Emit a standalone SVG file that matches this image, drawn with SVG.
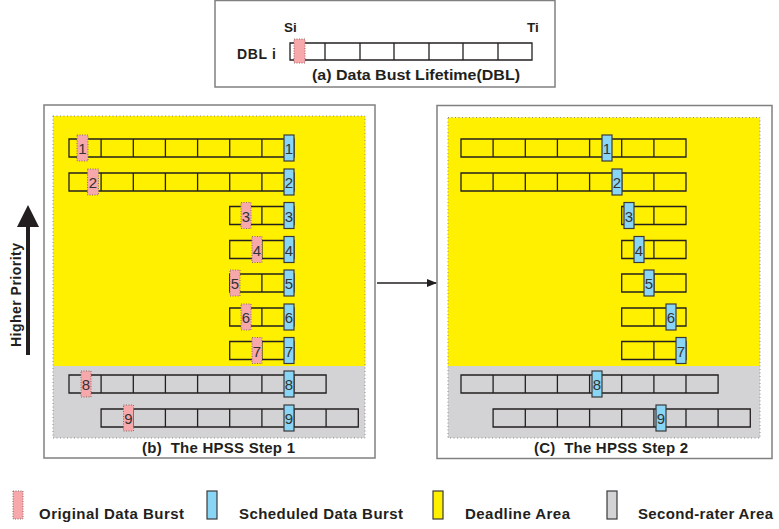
<svg xmlns="http://www.w3.org/2000/svg" width="779" height="529" viewBox="0 0 779 529">
<style>
.frame{fill:#fff;stroke:#808080;stroke-width:1.5}
.cell{fill:none;stroke:#231f20;stroke-width:1.3}
.pink{fill:#f7a8aa;stroke:#8a6a6a;stroke-width:1;stroke-dasharray:1 1.5}
.blue{fill:#89d5f5;stroke:#3a3a3a;stroke-width:1.2}
.yel{fill:#fff000}
.gry{fill:#d3d3d5}
.dots{fill:none;stroke:#8a8a8a;stroke-width:1;stroke-dasharray:1 2.5}
.num{font-family:"Liberation Sans",Arial,sans-serif;font-size:15px;fill:#333;text-anchor:middle}
.lbl{font-family:"Liberation Sans",Arial,sans-serif;font-weight:bold;fill:#231f20}
</style>
<defs>
<marker id="ah" markerWidth="10" markerHeight="8" refX="9" refY="4" orient="auto" markerUnits="userSpaceOnUse">
<path d="M0,0 L10,4 L0,8 Z" fill="#231f20"/>
</marker>
</defs>

<g id="dbl-box">
<rect class="frame" x="215" y="0.5" width="340" height="86.5"/>
<text class="lbl" x="284" y="32" font-size="13.5">Si</text>
<text class="lbl" x="527" y="32" font-size="13.5">Ti</text>
<text class="lbl" x="237" y="59" font-size="14" textLength="39">DBL i</text>
<path class="cell" d="M290,43 h242 v17 h-242 Z M325,43 v17 M360,43 v17 M394,43 v17 M429,43 v17 M463,43 v17 M498,43 v17"/>
<rect class="pink" x="294" y="39" width="11" height="24"/>
<text class="lbl" x="312" y="80" font-size="14" textLength="208" lengthAdjust="spacingAndGlyphs">(a) Data Bust Lifetime(DBL)</text>
</g>

<g id="panel-b">
<rect class="frame" x="44" y="105" width="331" height="353"/>
<rect class="yel" x="53" y="116" width="312" height="250"/>
<rect class="gry" x="53" y="366" width="312" height="72"/>
<rect class="dots" x="53" y="116" width="312" height="322"/>
<text class="lbl" x="142" y="453" font-size="15" textLength="153" xml:space="preserve">(b)  The HPSS Step 1</text>
</g>

<g id="b-row1">
<path class="cell" d="M69,139 h225 v18 h-225 Z M101.1,139 v18 M133.3,139 v18 M165.4,139 v18 M197.6,139 v18 M229.7,139 v18 M261.9,139 v18"/>
<rect class="pink" x="77" y="135" width="11" height="26"/><text class="num" x="82.5" y="154">1</text>
<rect class="blue" x="284" y="135" width="10" height="26"/><text class="num" x="289" y="154">1</text>
</g>
<g id="b-row2">
<path class="cell" d="M69,173 h225 v18 h-225 Z M101.1,173 v18 M133.3,173 v18 M165.4,173 v18 M197.6,173 v18 M229.7,173 v18 M261.9,173 v18"/>
<rect class="pink" x="87.5" y="169" width="11" height="26"/><text class="num" x="93" y="188">2</text>
<rect class="blue" x="284" y="169" width="10" height="26"/><text class="num" x="289" y="188">2</text>
</g>
<g id="b-row3">
<path class="cell" d="M229.7,206.5 h64.3 v18 h-64.3 Z M261.9,206.5 v18"/>
<rect class="pink" x="241" y="202.5" width="10" height="26"/><text class="num" x="246" y="221.5">3</text>
<rect class="blue" x="284" y="202.5" width="10" height="26"/><text class="num" x="289" y="221.5">3</text>
</g>
<g id="b-row4">
<path class="cell" d="M229.7,240.5 h64.3 v18 h-64.3 Z M261.9,240.5 v18"/>
<rect class="pink" x="252" y="236.5" width="10" height="26"/><text class="num" x="257" y="255.5">4</text>
<rect class="blue" x="284" y="236.5" width="10" height="26"/><text class="num" x="289" y="255.5">4</text>
</g>
<g id="b-row5">
<path class="cell" d="M229.7,274 h64.3 v18 h-64.3 Z M261.9,274 v18"/>
<rect class="pink" x="230" y="270" width="10" height="26"/><text class="num" x="235" y="289">5</text>
<rect class="blue" x="284" y="270" width="10" height="26"/><text class="num" x="289" y="289">5</text>
</g>
<g id="b-row6">
<path class="cell" d="M229.7,308 h64.3 v18 h-64.3 Z M261.9,308 v18"/>
<rect class="pink" x="241" y="304" width="10" height="26"/><text class="num" x="246" y="323">6</text>
<rect class="blue" x="284" y="304" width="10" height="26"/><text class="num" x="289" y="323">6</text>
</g>
<g id="b-row7">
<path class="cell" d="M229.7,341.5 h64.3 v18 h-64.3 Z M261.9,341.5 v18"/>
<rect class="pink" x="252" y="337.5" width="10" height="26"/><text class="num" x="257" y="356.5">7</text>
<rect class="blue" x="284" y="337.5" width="10" height="26"/><text class="num" x="289" y="356.5">7</text>
</g>
<g id="b-row8">
<path class="cell" d="M69,375 h257.1 v18 h-257.1 Z M101.1,375 v18 M133.3,375 v18 M165.4,375 v18 M197.6,375 v18 M229.7,375 v18 M261.9,375 v18 M294,375 v18"/>
<rect class="pink" x="81" y="371" width="10" height="26"/><text class="num" x="86" y="390">8</text>
<rect class="blue" x="284" y="371" width="10" height="26"/><text class="num" x="289" y="390">8</text>
</g>
<g id="b-row9">
<path class="cell" d="M101.1,409 h257.2 v18 h-257.2 Z M133.3,409 v18 M165.4,409 v18 M197.6,409 v18 M229.7,409 v18 M261.9,409 v18 M294,409 v18 M326.1,409 v18"/>
<rect class="pink" x="123.5" y="405" width="10" height="26"/><text class="num" x="128.5" y="424">9</text>
<rect class="blue" x="284" y="405" width="10" height="26"/><text class="num" x="289" y="424">9</text>
</g>

<g id="panel-c">
<rect class="frame" x="437" y="105.5" width="335" height="353"/>
<rect class="yel" x="448" y="117.5" width="312" height="248.5"/>
<rect class="gry" x="448" y="366" width="312" height="72"/>
<rect class="dots" x="448" y="117.5" width="312" height="320.5"/>
<text class="lbl" x="534" y="453" font-size="15" textLength="154" xml:space="preserve">(C)  The HPSS Step 2</text>
</g>

<g id="c-row1">
<path class="cell" d="M461,139 h225 v18 h-225 Z M493.1,139 v18 M525.3,139 v18 M557.4,139 v18 M589.6,139 v18 M621.7,139 v18 M653.9,139 v18"/>
<rect class="blue" x="602" y="135" width="10" height="26"/><text class="num" x="607" y="154">1</text>
</g>
<g id="c-row2">
<path class="cell" d="M461,173 h225 v18 h-225 Z M493.1,173 v18 M525.3,173 v18 M557.4,173 v18 M589.6,173 v18 M621.7,173 v18 M653.9,173 v18"/>
<rect class="blue" x="612" y="169" width="10" height="26"/><text class="num" x="617" y="188">2</text>
</g>
<g id="c-row3">
<path class="cell" d="M621.7,206.5 h64.3 v18 h-64.3 Z M653.9,206.5 v18"/>
<rect class="blue" x="624" y="202.5" width="10" height="26"/><text class="num" x="629" y="221.5">3</text>
</g>
<g id="c-row4">
<path class="cell" d="M621.7,240.5 h64.3 v18 h-64.3 Z M653.9,240.5 v18"/>
<rect class="blue" x="634" y="236.5" width="10" height="26"/><text class="num" x="639" y="255.5">4</text>
</g>
<g id="c-row5">
<path class="cell" d="M621.7,274 h64.3 v18 h-64.3 Z M653.9,274 v18"/>
<rect class="blue" x="644" y="270" width="10" height="26"/><text class="num" x="649" y="289">5</text>
</g>
<g id="c-row6">
<path class="cell" d="M621.7,308 h64.3 v18 h-64.3 Z M653.9,308 v18"/>
<rect class="blue" x="666" y="304" width="10" height="26"/><text class="num" x="671" y="323">6</text>
</g>
<g id="c-row7">
<path class="cell" d="M621.7,341.5 h64.3 v18 h-64.3 Z M653.9,341.5 v18"/>
<rect class="blue" x="676" y="337.5" width="10" height="26"/><text class="num" x="681" y="356.5">7</text>
</g>
<g id="c-row8">
<path class="cell" d="M461,375 h257.1 v18 h-257.1 Z M493.1,375 v18 M525.3,375 v18 M557.4,375 v18 M589.6,375 v18 M621.7,375 v18 M653.9,375 v18 M686,375 v18"/>
<rect class="blue" x="592" y="371" width="10" height="26"/><text class="num" x="597" y="390">8</text>
</g>
<g id="c-row9">
<path class="cell" d="M493.1,409 h257.2 v18 h-257.2 Z M525.3,409 v18 M557.4,409 v18 M589.6,409 v18 M621.7,409 v18 M653.9,409 v18 M686,409 v18 M718.1,409 v18"/>
<rect class="blue" x="656" y="405" width="10" height="26"/><text class="num" x="661" y="424">9</text>
</g>

<g id="connectors">
<line x1="377" y1="283" x2="436" y2="283" stroke="#231f20" stroke-width="1.3" marker-end="url(#ah)"/>
</g>

<g id="priority">
<line x1="28" y1="355" x2="28" y2="224" stroke="#231f20" stroke-width="4"/>
<polygon points="17,227 28,205 39,227" fill="#231f20"/>
<text class="lbl" x="0" y="0" font-size="14" text-anchor="middle" textLength="104" transform="translate(20.5,295) rotate(-90)">Higher Priority</text>
</g>

<g id="legend">
<rect class="pink" x="13" y="491" width="10" height="28"/>
<text class="lbl" x="39" y="519" font-size="15" textLength="145">Original Data Burst</text>
<rect class="blue" x="207" y="491" width="10" height="28"/>
<text class="lbl" x="239" y="519" font-size="15" textLength="164">Scheduled Data Burst</text>
<rect x="433" y="491" width="10" height="28" fill="#fff000" stroke="#3a3a3a" stroke-width="1.2"/>
<text class="lbl" x="465" y="519" font-size="15" textLength="105">Deadline Area</text>
<rect x="607" y="491" width="10" height="28" fill="#d3d3d5" stroke="#3a3a3a" stroke-width="1.2"/>
<text class="lbl" x="638" y="519" font-size="15" textLength="135">Second-rater Area</text>
</g>
</svg>
